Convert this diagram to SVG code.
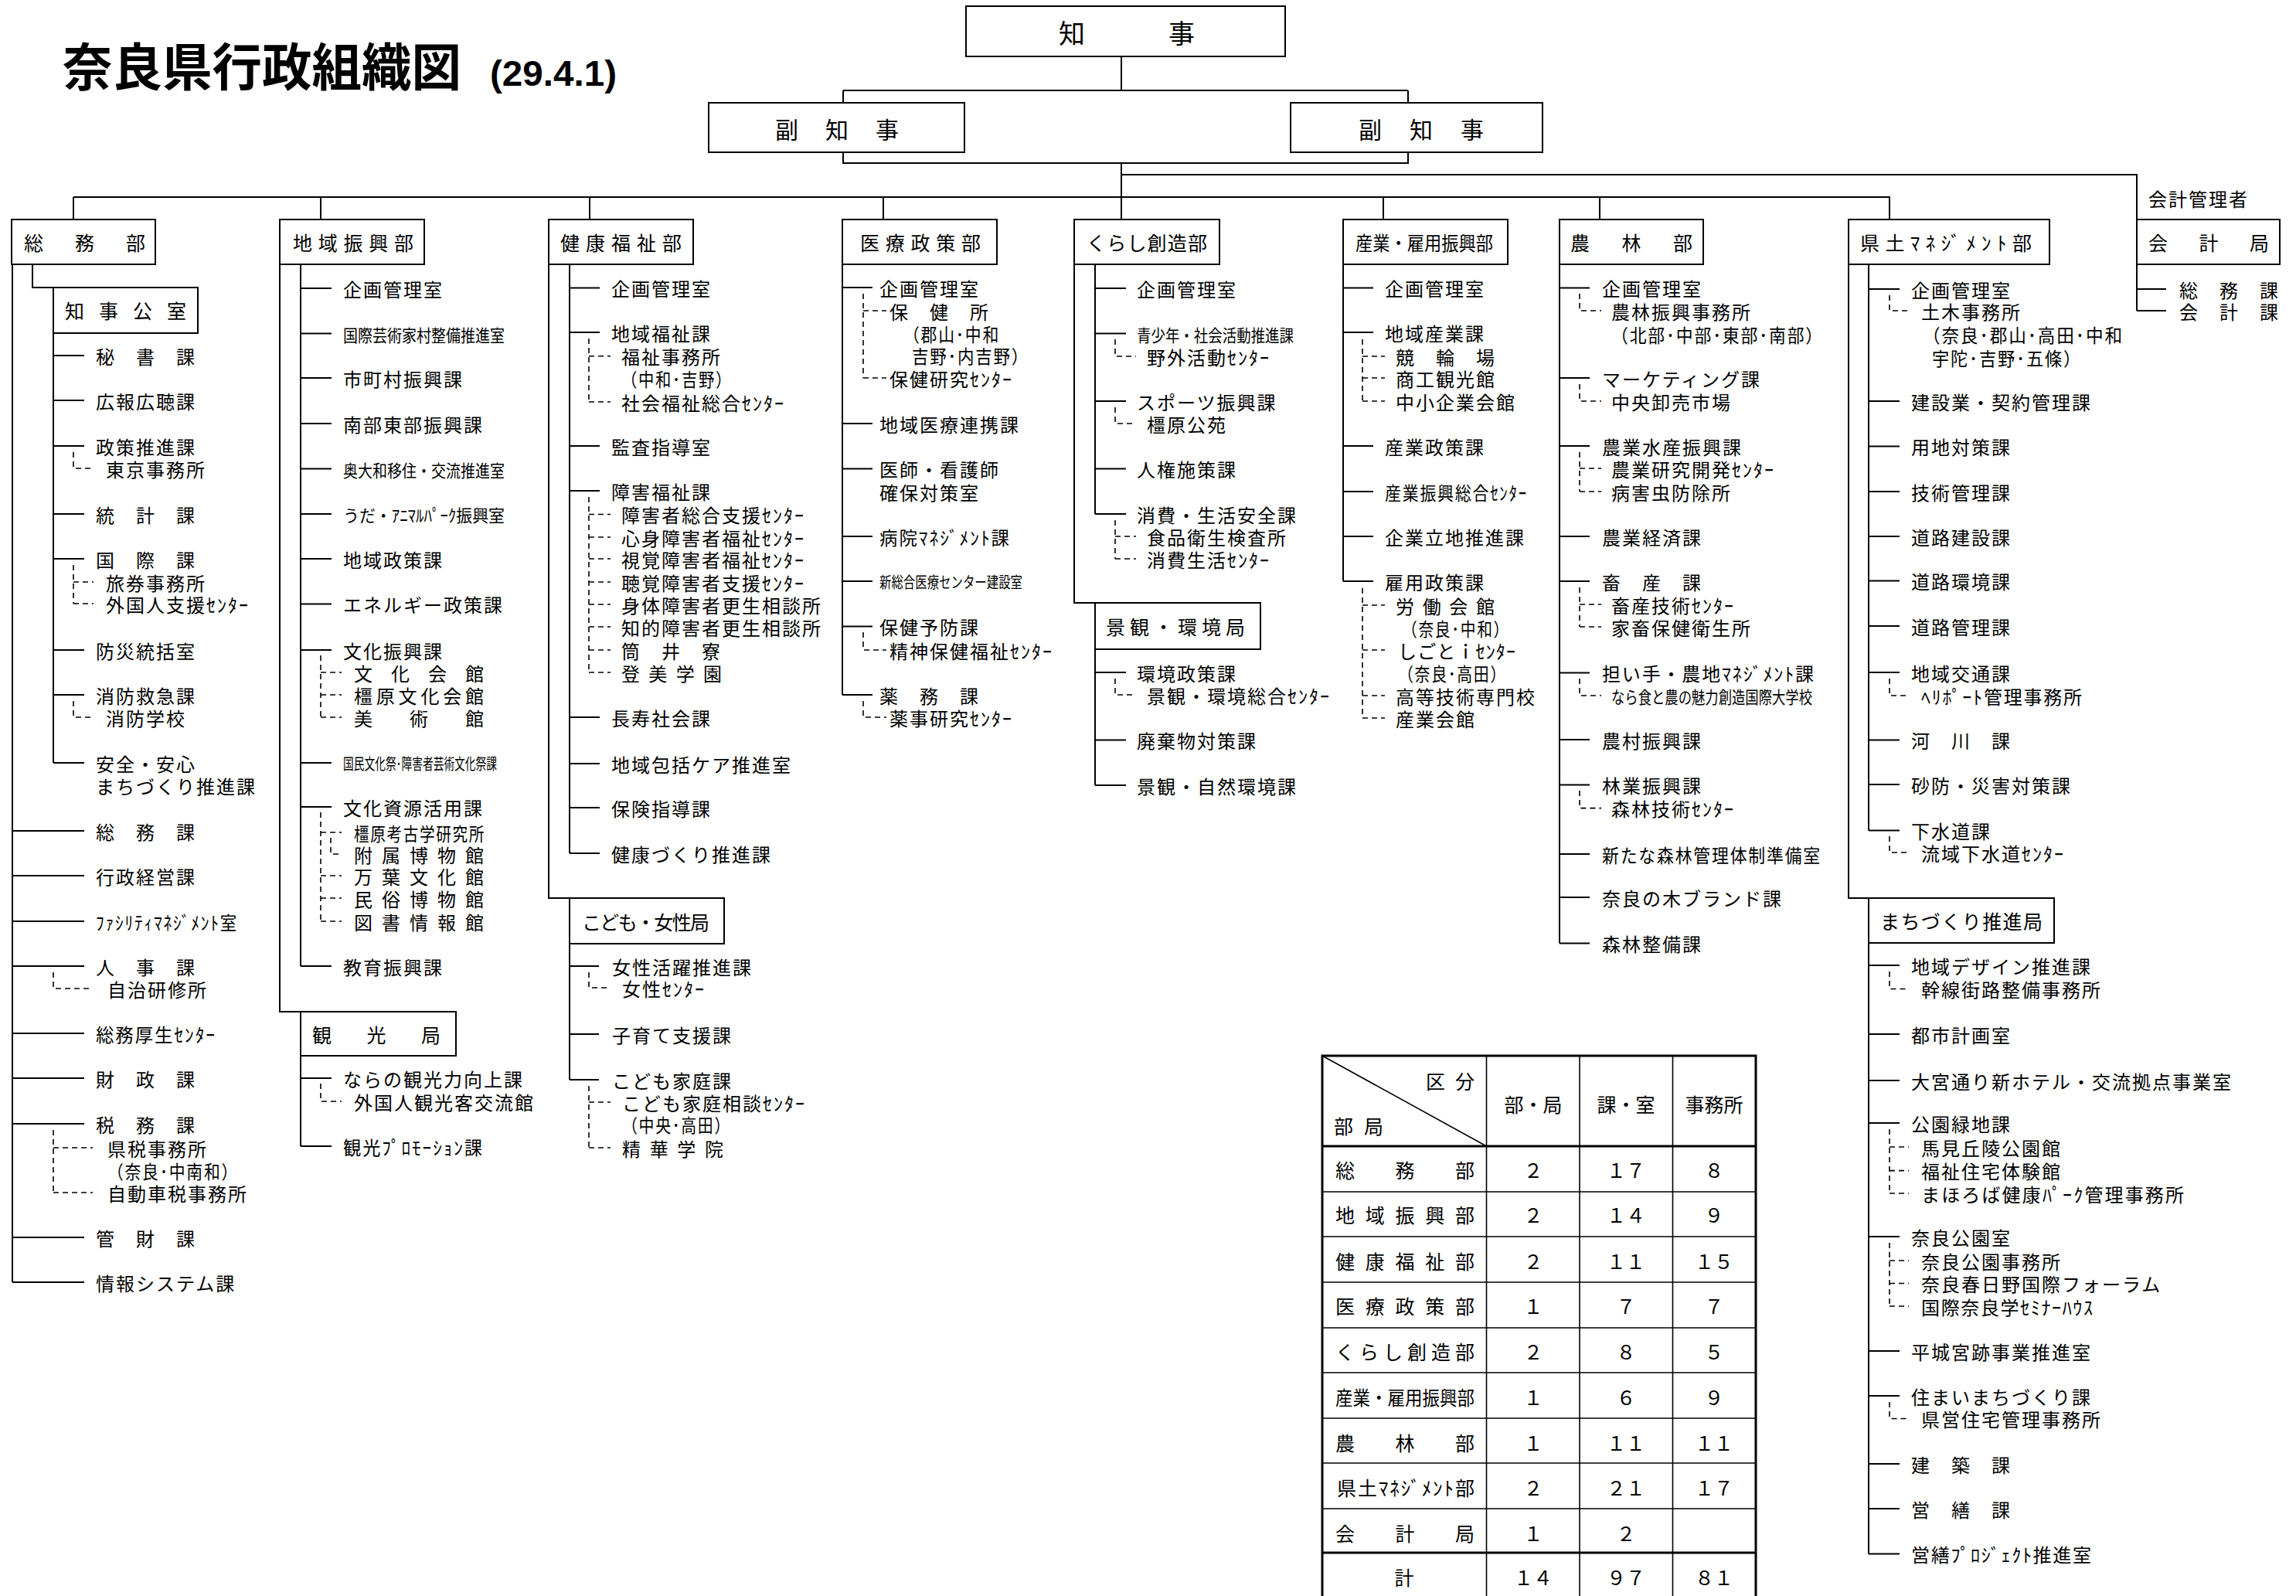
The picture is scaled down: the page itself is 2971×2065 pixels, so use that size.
<svg xmlns="http://www.w3.org/2000/svg" width="2971" height="2065" viewBox="0 0 2971 2065">
<defs>
<style>
text{font-family:"Noto Sans CJK JP","Noto Sans CJK SC",sans-serif;fill:#000;dominant-baseline:central}
.t{font-size:24px;letter-spacing:2px}
.c{font-size:22px}
.s{font-size:20px}
.b{font-size:25px}
.m{text-anchor:middle}
.ln{stroke:#000;stroke-width:2;fill:none}
.ds{stroke:#000;stroke-width:1.6;fill:none;stroke-dasharray:7 5}
.bx{fill:#fff;stroke:#000;stroke-width:2}
.tb{stroke:#000;fill:none}
</style>
</defs>
<rect width="2971" height="2065" fill="#fff"/>

<g id="title">
<text x="81" y="82" style="font-size:66px;font-weight:700" textLength="516" lengthAdjust="spacingAndGlyphs">奈良県行政組織図</text>
<text x="634" y="95" style="font-family:'Liberation Sans',sans-serif;font-size:46px;font-weight:700" textLength="164" lengthAdjust="spacingAndGlyphs">(29.4.1)</text>
</g>

<g id="connectors">
<path class="ln" d="M1451,72V117 M1091,117H1822 M1091,117V133 M1822,117V133 M1091,197V211H1822V197 M1451,211V284 M1451,226H2765V284 M95,255H2445V284 M95,255V284 M415,255V284 M763,255V284 M1143,255V284 M1790,255V284 M2070,255V284"/>
<path class="ln" d="M16,342V1659 M42,342V372H69 M69,431V987 M69,460H109 M69,518H109 M69,577H109 M69,665H109 M69,723H109 M69,841H109 M69,899H109 M69,987H109 M16,1075H109 M16,1133H109 M16,1192H109 M16,1250H109 M16,1337H109 M16,1395H109 M16,1454H109 M16,1601H109 M16,1659H109"/>
<path class="ds" d="M95,585V606H121 M95,731V781 M95,753H121 M95,781H121 M95,907V928H121 M69,1258V1279H120 M69,1462V1543 M69,1485H120 M69,1543H120"/>
<path class="ln" d="M362,342V1309H389 M389,342V1250 M389,373H429 M389,431.5H429 M389,489H429 M389,548H429 M389,606.5H429 M389,665H429 M389,723H429 M389,781.5H429 M389,841H429 M389,987H429 M389,1044H429 M389,1250H429 M389,1366V1483 M389,1395H429 M389,1483H429"/>
<path class="ds" d="M415,848V928 M415,870H442 M415,899H442 M415,928H442 M415,1051V1192 M415,1077H442 M415,1133H442 M415,1162H442 M415,1192H442 M428,1084V1105H440 M415,1402V1425H442"/>
<path class="ln" d="M710,342V1162H737 M737,342V1104 M737,372.6H776 M737,430H776 M737,577H776 M737,635H776 M737,928H776 M737,988H776 M737,1045H776 M737,1104H776 M737,1221V1397 M737,1250H775 M737,1338H775 M737,1397H775"/>
<path class="ds" d="M762,438V520 M762,460.7H790 M762,520H790 M762,643V870 M762,665.5H790 M762,695H790 M762,723H790 M762,753H790 M762,782H790 M762,811H790 M762,841H790 M762,870H790 M762,1258V1278H790 M762,1405V1485 M762,1426H790 M762,1485H790"/>
<path class="ln" d="M1090,342V899 M1090,372H1129 M1090,548H1129 M1090,606.5H1129 M1090,694H1129 M1090,752H1129 M1090,810.6H1129 M1090,899H1129"/>
<path class="ds" d="M1117,380V489 M1117,402H1147 M1117,489H1147 M1117,818V841H1147 M1117,907V928H1147"/>
<path class="ln" d="M1390,342V780H1417 M1417,342V665 M1417,373H1457 M1417,431.5H1457 M1417,519H1457 M1417,606.5H1457 M1417,665H1457 M1417,840V1016 M1417,870H1457 M1417,957.5H1457 M1417,1016H1457"/>
<path class="ds" d="M1443,439V461H1470 M1443,527V548H1470 M1443,673V723 M1443,694H1470 M1443,723H1470 M1443,878V899H1470"/>
<path class="ln" d="M1738,342V752 M1738,372.5H1777 M1738,430H1777 M1738,577H1777 M1738,636H1777 M1738,694H1777 M1738,752H1777"/>
<path class="ds" d="M1763,439V519 M1763,461H1792 M1763,489H1792 M1763,519H1792 M1763,761V929 M1763,783H1792 M1763,841H1792 M1763,900H1792 M1763,929H1792"/>
<path class="ln" d="M2018,342V1220.6 M2018,372.5H2057 M2018,489H2057 M2018,577H2057 M2018,694H2057 M2018,752H2057 M2018,870.6H2057 M2018,957H2057 M2018,1015.6H2057 M2018,1105H2057 M2018,1161H2057 M2018,1220.6H2057"/>
<path class="ds" d="M2044,380V402H2072 M2044,497V519H2072 M2044,585V636 M2044,606H2072 M2044,636H2072 M2044,760V811 M2044,782H2072 M2044,811H2072 M2044,878V900H2072 M2044,1023V1045.6H2072"/>
<path class="ln" d="M2392,342V1162H2418 M2418,342V1074.5 M2418,374H2458 M2418,519H2458 M2418,577.6H2458 M2418,636H2458 M2418,694H2458 M2418,751.5H2458 M2418,810H2458 M2418,870H2458 M2418,957.6H2458 M2418,1015H2458 M2418,1074.5H2458 M2418,1220V2010.5 M2418,1249H2458 M2418,1338H2458 M2418,1398H2458 M2418,1453H2458 M2418,1600H2458 M2418,1748H2458 M2418,1806H2458 M2418,1894H2458 M2418,1952H2458 M2418,2010.5H2458"/>
<path class="ds" d="M2445,382V402H2470 M2445,878V900H2470 M2445,1082V1103H2470 M2445,1257V1279.5H2470 M2445,1461V1544 M2445,1484H2470 M2445,1514.6H2470 M2445,1544H2470 M2445,1608V1690 M2445,1631H2470 M2445,1660.5H2470 M2445,1690H2470 M2445,1814V1835.5H2470"/>
<path class="ln" d="M2765,342V402 M2765,374H2803 M2765,402H2803"/>
</g>

<g id="n-chiji"><rect class="bx" x="1250" y="8" width="413" height="65"/><text x="1370" y="41" style="font-size:34px" textLength="176">知　　事</text></g>
<g id="n-fuku1"><rect class="bx" x="917" y="133" width="331" height="64"/><text x="1003" y="166" style="font-size:30px" textLength="160">副　知　事</text></g>
<g id="n-fuku2"><rect class="bx" x="1670" y="133" width="326" height="64"/><text x="1758" y="166" style="font-size:30px" textLength="162">副　知　事</text></g>

<g id="n-somu">
<rect class="bx" x="15" y="284" width="186" height="58"/><text class="b" x="31" y="313" textLength="157">総　務　部</text>
<rect class="bx" x="69" y="372" width="187" height="59"/><text class="b" x="84" y="401" textLength="157">知事公室</text>
<text class="t" x="124" y="460">秘　書　課</text>
<text class="t" x="124" y="518">広報広聴課</text>
<text class="t" x="124" y="577">政策推進課</text>
<text class="t" x="137" y="606">東京事務所</text>
<text class="t" x="124" y="665">統　計　課</text>
<text class="t" x="124" y="723">国　際　課</text>
<text class="t" x="137" y="753">旅券事務所</text>
<text class="t" x="137" y="781">外国人支援ｾﾝﾀｰ</text>
<text class="t" x="124" y="841">防災統括室</text>
<text class="t" x="124" y="899">消防救急課</text>
<text class="t" x="137" y="928">消防学校</text>
<text class="t" x="124" y="987">安全・安心</text>
<text class="t" x="124" y="1016">まちづくり推進課</text>
<text class="t" x="124" y="1075">総　務　課</text>
<text class="t" x="124" y="1133">行政経営課</text>
<text class="t" x="124" y="1192" textLength="184" lengthAdjust="spacingAndGlyphs">ﾌｧｼﾘﾃｨﾏﾈｼﾞﾒﾝﾄ室</text>
<text class="t" x="124" y="1250">人　事　課</text>
<text class="t" x="139" y="1279">自治研修所</text>
<text class="t" x="124" y="1337" textLength="156" lengthAdjust="spacingAndGlyphs">総務厚生ｾﾝﾀｰ</text>
<text class="t" x="124" y="1395">財　政　課</text>
<text class="t" x="124" y="1454">税　務　課</text>
<text class="t" x="139" y="1485">県税事務所</text>
<text class="t" x="139" y="1514" textLength="170" lengthAdjust="spacingAndGlyphs">（奈良･中南和）</text>
<text class="t" x="139" y="1543">自動車税事務所</text>
<text class="t" x="124" y="1601">管　財　課</text>
<text class="t" x="124" y="1659">情報システム課</text>
</g>

<g id="n-chiiki">
<rect class="bx" x="362" y="284" width="187" height="58"/><text class="b" x="379" y="313" textLength="156">地域振興部</text>
<text class="t" x="444" y="373">企画管理室</text>
<text class="c" x="444" y="431.5" textLength="209" lengthAdjust="spacingAndGlyphs">国際芸術家村整備推進室</text>
<text class="t" x="444" y="489">市町村振興課</text>
<text class="t" x="444" y="548">南部東部振興課</text>
<text class="c" x="444" y="606.5" textLength="209" lengthAdjust="spacingAndGlyphs">奥大和移住・交流推進室</text>
<text class="c" x="444" y="665" textLength="209" lengthAdjust="spacingAndGlyphs">うだ・ｱﾆﾏﾙﾊﾟｰｸ振興室</text>
<text class="t" x="444" y="723">地域政策課</text>
<text class="t" x="444" y="781.5">エネルギー政策課</text>
<text class="t" x="444" y="841">文化振興課</text>
<text class="t" x="458" y="870" textLength="170">文　化　会　館</text>
<text class="t" x="458" y="899" textLength="170">橿原文化会館</text>
<text class="t" x="458" y="928" textLength="170">美　術　館</text>
<text class="s" x="444" y="987" textLength="199" lengthAdjust="spacingAndGlyphs">国民文化祭･障害者芸術文化祭課</text>
<text class="t" x="444" y="1044">文化資源活用課</text>
<text class="t" x="458" y="1077" textLength="170" lengthAdjust="spacingAndGlyphs">橿原考古学研究所</text>
<text class="t" x="458" y="1105" textLength="170">附属博物館</text>
<text class="t" x="458" y="1133" textLength="170">万葉文化館</text>
<text class="t" x="458" y="1162" textLength="170">民俗博物館</text>
<text class="t" x="458" y="1192" textLength="170">図書情報館</text>
<text class="t" x="444" y="1250">教育振興課</text>
<rect class="bx" x="389" y="1309" width="201" height="57"/><text class="b" x="404" y="1338" textLength="166">観　光　局</text>
<text class="t" x="444" y="1395">ならの観光力向上課</text>
<text class="t" x="458" y="1425">外国人観光客交流館</text>
<text class="t" x="444" y="1483" textLength="182" lengthAdjust="spacingAndGlyphs">観光ﾌﾟﾛﾓｰｼｮﾝ課</text>
</g>

<g id="n-kenko">
<rect class="bx" x="710" y="284" width="187" height="58"/><text class="b" x="725" y="313" textLength="157">健康福祉部</text>
<text class="t" x="791" y="372.6">企画管理室</text>
<text class="t" x="791" y="430">地域福祉課</text>
<text class="t" x="804" y="460.7">福祉事務所</text>
<text class="t" x="804" y="489" textLength="144" lengthAdjust="spacingAndGlyphs">（中和･吉野）</text>
<text class="t" x="804" y="520">社会福祉総合ｾﾝﾀｰ</text>
<text class="t" x="791" y="577">監査指導室</text>
<text class="t" x="791" y="635">障害福祉課</text>
<text class="t" x="804" y="665.5">障害者総合支援ｾﾝﾀｰ</text>
<text class="t" x="804" y="695">心身障害者福祉ｾﾝﾀｰ</text>
<text class="t" x="804" y="723">視覚障害者福祉ｾﾝﾀｰ</text>
<text class="t" x="804" y="753">聴覚障害者支援ｾﾝﾀｰ</text>
<text class="t" x="804" y="782">身体障害者更生相談所</text>
<text class="t" x="804" y="811">知的障害者更生相談所</text>
<text class="t" x="804" y="841">筒　井　寮</text>
<text class="t" x="804" y="870" textLength="132">登美学園</text>
<text class="t" x="791" y="928">長寿社会課</text>
<text class="t" x="791" y="988">地域包括ケア推進室</text>
<text class="t" x="791" y="1045">保険指導課</text>
<text class="t" x="791" y="1104">健康づくり推進課</text>
<rect class="bx" x="737" y="1162" width="200" height="59"/><text class="b" x="753" y="1192" textLength="165">こども・女性局</text>
<text class="t" x="792" y="1250">女性活躍推進課</text>
<text class="t" x="805" y="1278">女性ｾﾝﾀｰ</text>
<text class="t" x="792" y="1338">子育て支援課</text>
<text class="t" x="792" y="1397">こども家庭課</text>
<text class="t" x="805" y="1426">こども家庭相談ｾﾝﾀｰ</text>
<text class="t" x="805" y="1454" textLength="141" lengthAdjust="spacingAndGlyphs">（中央･高田）</text>
<text class="t" x="805" y="1485" textLength="133">精華学院</text>
</g>

<g id="n-iryo">
<rect class="bx" x="1090" y="284" width="200" height="58"/><text class="b" x="1113" y="313" textLength="156">医療政策部</text>
<text class="t" x="1138" y="372">企画管理室</text>
<text class="t" x="1151" y="402">保　健　所</text>
<text class="t" x="1169" y="431.5" textLength="125" lengthAdjust="spacingAndGlyphs">（郡山･中和</text>
<text class="t" x="1180" y="459.6" textLength="152" lengthAdjust="spacingAndGlyphs">吉野･内吉野）</text>
<text class="t" x="1151" y="489">保健研究ｾﾝﾀｰ</text>
<text class="t" x="1138" y="548">地域医療連携課</text>
<text class="t" x="1138" y="606.5">医師・看護師</text>
<text class="t" x="1138" y="636">確保対策室</text>
<text class="t" x="1138" y="694" textLength="170" lengthAdjust="spacingAndGlyphs">病院ﾏﾈｼﾞﾒﾝﾄ課</text>
<text class="s" x="1138" y="752" textLength="185" lengthAdjust="spacingAndGlyphs">新総合医療センター建設室</text>
<text class="t" x="1138" y="810.6">保健予防課</text>
<text class="t" x="1151" y="841">精神保健福祉ｾﾝﾀｰ</text>
<text class="t" x="1138" y="899">薬　務　課</text>
<text class="t" x="1151" y="928">薬事研究ｾﾝﾀｰ</text>
</g>

<g id="n-kurashi">
<rect class="bx" x="1390" y="284" width="188" height="58"/><text class="b" x="1406" y="313" textLength="156">くらし創造部</text>
<text class="t" x="1471" y="373">企画管理室</text>
<text class="c" x="1471" y="431.5" textLength="203" lengthAdjust="spacingAndGlyphs">青少年・社会活動推進課</text>
<text class="t" x="1484" y="461">野外活動ｾﾝﾀｰ</text>
<text class="t" x="1471" y="519">スポーツ振興課</text>
<text class="t" x="1484" y="548">橿原公苑</text>
<text class="t" x="1471" y="606.5">人権施策課</text>
<text class="t" x="1471" y="665">消費・生活安全課</text>
<text class="t" x="1484" y="694">食品衛生検査所</text>
<text class="t" x="1484" y="723">消費生活ｾﾝﾀｰ</text>
<rect class="bx" x="1417" y="780" width="214" height="60"/><text class="b" x="1431" y="810" textLength="180">景観・環境局</text>
<text class="t" x="1471" y="870">環境政策課</text>
<text class="t" x="1484" y="899">景観・環境総合ｾﾝﾀｰ</text>
<text class="t" x="1471" y="957.5">廃棄物対策課</text>
<text class="t" x="1471" y="1016">景観・自然環境課</text>
</g>

<g id="n-sangyo">
<rect class="bx" x="1738" y="284" width="213" height="58"/><text class="b" x="1754" y="313" textLength="178" lengthAdjust="spacingAndGlyphs">産業・雇用振興部</text>
<text class="t" x="1792" y="372.5">企画管理室</text>
<text class="t" x="1792" y="430">地域産業課</text>
<text class="t" x="1806" y="461">競　輪　場</text>
<text class="t" x="1806" y="489">商工観光館</text>
<text class="t" x="1806" y="519">中小企業会館</text>
<text class="t" x="1792" y="577">産業政策課</text>
<text class="t" x="1792" y="636" textLength="185" lengthAdjust="spacingAndGlyphs">産業振興総合ｾﾝﾀｰ</text>
<text class="t" x="1792" y="694">企業立地推進課</text>
<text class="t" x="1792" y="752">雇用政策課</text>
<text class="t" x="1806" y="783" textLength="130">労働会館</text>
<text class="t" x="1814" y="812.5" textLength="140" lengthAdjust="spacingAndGlyphs">（奈良･中和）</text>
<text class="t" x="1809" y="841" textLength="154">しごとｉｾﾝﾀｰ</text>
<text class="t" x="1809" y="870.6" textLength="141" lengthAdjust="spacingAndGlyphs">（奈良･高田）</text>
<text class="t" x="1806" y="900">高等技術専門校</text>
<text class="t" x="1806" y="929">産業会館</text>
</g>

<g id="n-norin">
<rect class="bx" x="2018" y="284" width="186" height="58"/><text class="b" x="2032" y="313" textLength="158">農　林　部</text>
<text class="t" x="2073" y="372.5">企画管理室</text>
<text class="t" x="2085" y="402">農林振興事務所</text>
<text class="t" x="2085" y="432" textLength="275" lengthAdjust="spacingAndGlyphs">（北部･中部･東部･南部）</text>
<text class="t" x="2073" y="489">マーケティング課</text>
<text class="t" x="2085" y="519">中央卸売市場</text>
<text class="t" x="2073" y="577">農業水産振興課</text>
<text class="t" x="2085" y="606">農業研究開発ｾﾝﾀｰ</text>
<text class="t" x="2085" y="636">病害虫防除所</text>
<text class="t" x="2073" y="694">農業経済課</text>
<text class="t" x="2073" y="752">畜　産　課</text>
<text class="t" x="2085" y="782">畜産技術ｾﾝﾀｰ</text>
<text class="t" x="2085" y="811">家畜保健衛生所</text>
<text class="t" x="2073" y="870.6" textLength="276">担い手・農地ﾏﾈｼﾞﾒﾝﾄ課</text>
<text class="c" x="2085" y="900" textLength="260" lengthAdjust="spacingAndGlyphs">なら食と農の魅力創造国際大学校</text>
<text class="t" x="2073" y="957">農村振興課</text>
<text class="t" x="2073" y="1015.6">林業振興課</text>
<text class="t" x="2085" y="1045.6">森林技術ｾﾝﾀｰ</text>
<text class="t" x="2073" y="1105" textLength="284" lengthAdjust="spacingAndGlyphs">新たな森林管理体制準備室</text>
<text class="t" x="2073" y="1161">奈良の木ブランド課</text>
<text class="t" x="2073" y="1220.6">森林整備課</text>
</g>

<g id="n-kendo">
<rect class="bx" x="2392" y="284" width="260" height="58"/><text class="b" x="2407" y="313" textLength="222">県土ﾏﾈｼﾞﾒﾝﾄ部</text>
<text class="t" x="2473" y="374">企画管理室</text>
<text class="t" x="2486" y="402">土木事務所</text>
<text class="t" x="2488" y="432" textLength="260" lengthAdjust="spacingAndGlyphs">（奈良･郡山･高田･中和</text>
<text class="t" x="2500" y="462" textLength="194" lengthAdjust="spacingAndGlyphs">宇陀･吉野･五條）</text>
<text class="t" x="2473" y="519">建設業・契約管理課</text>
<text class="t" x="2473" y="577.6">用地対策課</text>
<text class="t" x="2473" y="636">技術管理課</text>
<text class="t" x="2473" y="694">道路建設課</text>
<text class="t" x="2473" y="751.5">道路環境課</text>
<text class="t" x="2473" y="810">道路管理課</text>
<text class="t" x="2473" y="870">地域交通課</text>
<text class="t" x="2486" y="900" textLength="210">ﾍﾘﾎﾟｰﾄ管理事務所</text>
<text class="t" x="2473" y="957.6">河　川　課</text>
<text class="t" x="2473" y="1015">砂防・災害対策課</text>
<text class="t" x="2473" y="1074.5">下水道課</text>
<text class="t" x="2486" y="1103">流域下水道ｾﾝﾀｰ</text>
<rect class="bx" x="2418" y="1162" width="240" height="58"/><text class="b" x="2433" y="1191" textLength="210">まちづくり推進局</text>
<text class="t" x="2473" y="1249">地域デザイン推進課</text>
<text class="t" x="2486" y="1279.5">幹線街路整備事務所</text>
<text class="t" x="2473" y="1338">都市計画室</text>
<text class="t" x="2473" y="1398">大宮通り新ホテル・交流拠点事業室</text>
<text class="t" x="2473" y="1453">公園緑地課</text>
<text class="t" x="2486" y="1484">馬見丘陵公園館</text>
<text class="t" x="2486" y="1514.6">福祉住宅体験館</text>
<text class="t" x="2486" y="1544" textLength="342">まほろば健康ﾊﾟｰｸ管理事務所</text>
<text class="t" x="2473" y="1600">奈良公園室</text>
<text class="t" x="2486" y="1631">奈良公園事務所</text>
<text class="t" x="2486" y="1660.5">奈良春日野国際フォーラム</text>
<text class="t" x="2486" y="1690" textLength="224">国際奈良学ｾﾐﾅｰﾊｳｽ</text>
<text class="t" x="2473" y="1748">平城宮跡事業推進室</text>
<text class="t" x="2473" y="1806">住まいまちづくり課</text>
<text class="t" x="2486" y="1835.5">県営住宅管理事務所</text>
<text class="t" x="2473" y="1894">建　築　課</text>
<text class="t" x="2473" y="1952">営　繕　課</text>
<text class="t" x="2473" y="2010.5" textLength="235">営繕ﾌﾟﾛｼﾞｪｸﾄ推進室</text>
</g>

<g id="n-kaikei">
<text class="t" x="2780" y="256">会計管理者</text>
<rect class="bx" x="2765" y="284" width="185" height="58"/><text class="b" x="2780" y="313" textLength="156">会　計　局</text>
<text class="t" x="2820" y="374" textLength="130">総　務　課</text>
<text class="t" x="2820" y="402" textLength="130">会　計　課</text>
</g>

<g id="summary-table">
<rect x="1711" y="1366" width="561" height="720" fill="#fff" stroke="#000" stroke-width="3"/>
<path class="tb" stroke-width="1.6" d="M1923.5,1366V2070 M2044,1366V2070 M2164.5,1366V2070 M1711,1542H2272 M1711,1600H2272 M1711,1659H2272 M1711,1718H2272 M1711,1776H2272 M1711,1835H2272 M1711,1893H2272 M1711,1952H2272 M1711,1366L1923.5,1483"/>
<path class="tb" stroke-width="3" d="M1711,1483H2272 M1711,2009H2272"/>
<text class="b" x="1845" y="1398" textLength="63">区分</text>
<text class="b" x="1726" y="1456" textLength="64">部局</text>
<text class="b m" x="1984" y="1428">部・局</text>
<text class="b m" x="2104" y="1428">課・室</text>
<text class="b m" x="2218" y="1428">事務所</text>
<text class="b" x="1728" y="1513" textLength="180">総務部</text>
<text class="b" x="1728" y="1571" textLength="180">地域振興部</text>
<text class="b" x="1728" y="1631" textLength="180">健康福祉部</text>
<text class="b" x="1728" y="1689" textLength="180">医療政策部</text>
<text class="b" x="1728" y="1748" textLength="180">くらし創造部</text>
<text class="b" x="1728" y="1807" textLength="180" lengthAdjust="spacingAndGlyphs">産業・雇用振興部</text>
<text class="b" x="1728" y="1866" textLength="180">農林部</text>
<text class="b" x="1730" y="1924" textLength="178">県土ﾏﾈｼﾞﾒﾝﾄ部</text>
<text class="b" x="1728" y="1983" textLength="180">会計局</text>
<text class="b m" x="1817" y="2040">計</text>
<text class="b m" x="1984" y="1513">２</text><text class="b m" x="2104" y="1513">１７</text><text class="b m" x="2218" y="1513">８</text>
<text class="b m" x="1984" y="1571">２</text><text class="b m" x="2104" y="1571">１４</text><text class="b m" x="2218" y="1571">９</text>
<text class="b m" x="1984" y="1631">２</text><text class="b m" x="2104" y="1631">１１</text><text class="b m" x="2218" y="1631">１５</text>
<text class="b m" x="1984" y="1689">１</text><text class="b m" x="2104" y="1689">７</text><text class="b m" x="2218" y="1689">７</text>
<text class="b m" x="1984" y="1748">２</text><text class="b m" x="2104" y="1748">８</text><text class="b m" x="2218" y="1748">５</text>
<text class="b m" x="1984" y="1807">１</text><text class="b m" x="2104" y="1807">６</text><text class="b m" x="2218" y="1807">９</text>
<text class="b m" x="1984" y="1866">１</text><text class="b m" x="2104" y="1866">１１</text><text class="b m" x="2218" y="1866">１１</text>
<text class="b m" x="1984" y="1924">２</text><text class="b m" x="2104" y="1924">２１</text><text class="b m" x="2218" y="1924">１７</text>
<text class="b m" x="1984" y="1983">１</text><text class="b m" x="2104" y="1983">２</text>
<text class="b m" x="1984" y="2040">１４</text><text class="b m" x="2104" y="2040">９７</text><text class="b m" x="2218" y="2040">８１</text>
</g>
</svg>
